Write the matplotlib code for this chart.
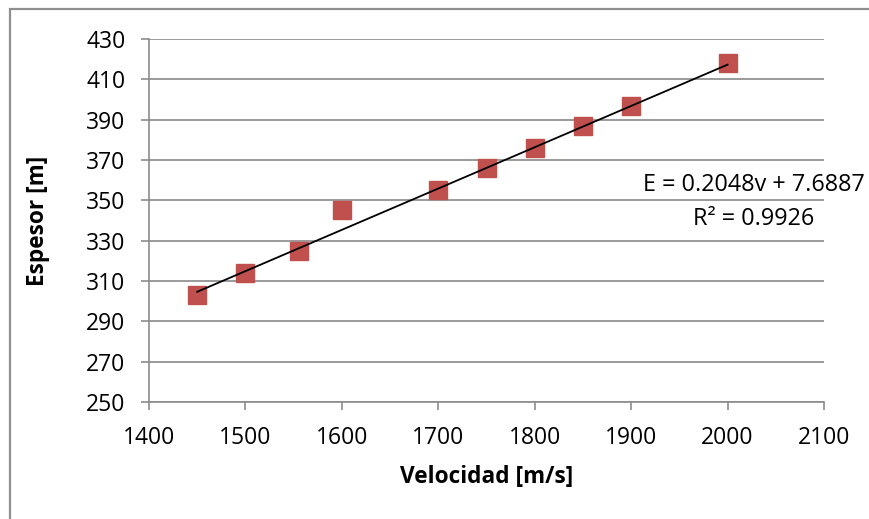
import matplotlib
matplotlib.use("Agg")
import matplotlib.pyplot as plt
from matplotlib.patches import Rectangle
import numpy as np

plt.rcParams['font.family'] = ['Open Sans', 'DejaVu Sans']

# Measured data: velocity vs. thickness
velocidad = [1450, 1500, 1556, 1600, 1700, 1750, 1800, 1850, 1900, 2000]
espesor = [303, 314, 325, 345, 355, 366, 376, 387, 397, 418]

# Linear trend line coefficients (as reported)
pendiente = 0.2048
intercepto = 7.6887
r2 = 0.9926

x_ticks = [1400, 1500, 1600, 1700, 1800, 1900, 2000, 2100]
y_ticks = [250, 270, 290, 310, 330, 350, 370, 390, 410, 430]

W, H = 869, 519
fig = plt.figure(figsize=(W / 100, H / 100), dpi=100)

# Chart-area frame
fig.patches.append(Rectangle((10 / W, -0.1), 1.2, 1 - 9 / H + 0.1, transform=fig.transFigure,
                             fill=False, edgecolor='#8f8f8f', linewidth=1.6))

ax = fig.add_axes([149 / W, 1 - 402 / H, (824 - 149) / W, (402 - 39) / H])
ax.set_xlim(1400, 2100)
ax.set_ylim(250, 430)
ax.set_xticks(x_ticks)
ax.set_yticks(y_ticks)
ax.grid(axis='y', color='#9a9a9a', linewidth=1.4)
ax.set_axisbelow(True)
for s in ['top', 'right']:
    ax.spines[s].set_visible(False)
for s in ['left', 'bottom']:
    ax.spines[s].set_color('#8c8c8c')
    ax.spines[s].set_linewidth(1.2)
ax.tick_params(axis='both', direction='out', length=6, color='#8c8c8c', width=1.2,
               labelsize=16.5)
ax.tick_params(axis='y', pad=11)
ax.tick_params(axis='x', pad=11)

ax.plot(velocidad, espesor, linestyle='none', marker='s', markersize=12.5,
        color='#C0504D', markeredgecolor='#C0504D', zorder=3)

xt = np.array([min(velocidad), max(velocidad)])
ax.plot(xt, pendiente * xt + intercepto, color='black', linewidth=1.3, zorder=4)

ax.set_xlabel('Velocidad [m/s]', fontsize=16.3, fontweight='bold', labelpad=11)
ax.set_ylabel('Espesor [m]', fontsize=16.3, fontweight='bold', labelpad=26)

fig.text(754 / W, 1 - 185 / H, f'E = {pendiente}v + {intercepto}', fontsize=16.8,
         ha='center', va='center')
fig.text(754 / W, 1 - 219 / H, f'R² = {r2}', fontsize=16.8, ha='center', va='center')

fig.savefig('out.png', dpi=100, facecolor='white')
